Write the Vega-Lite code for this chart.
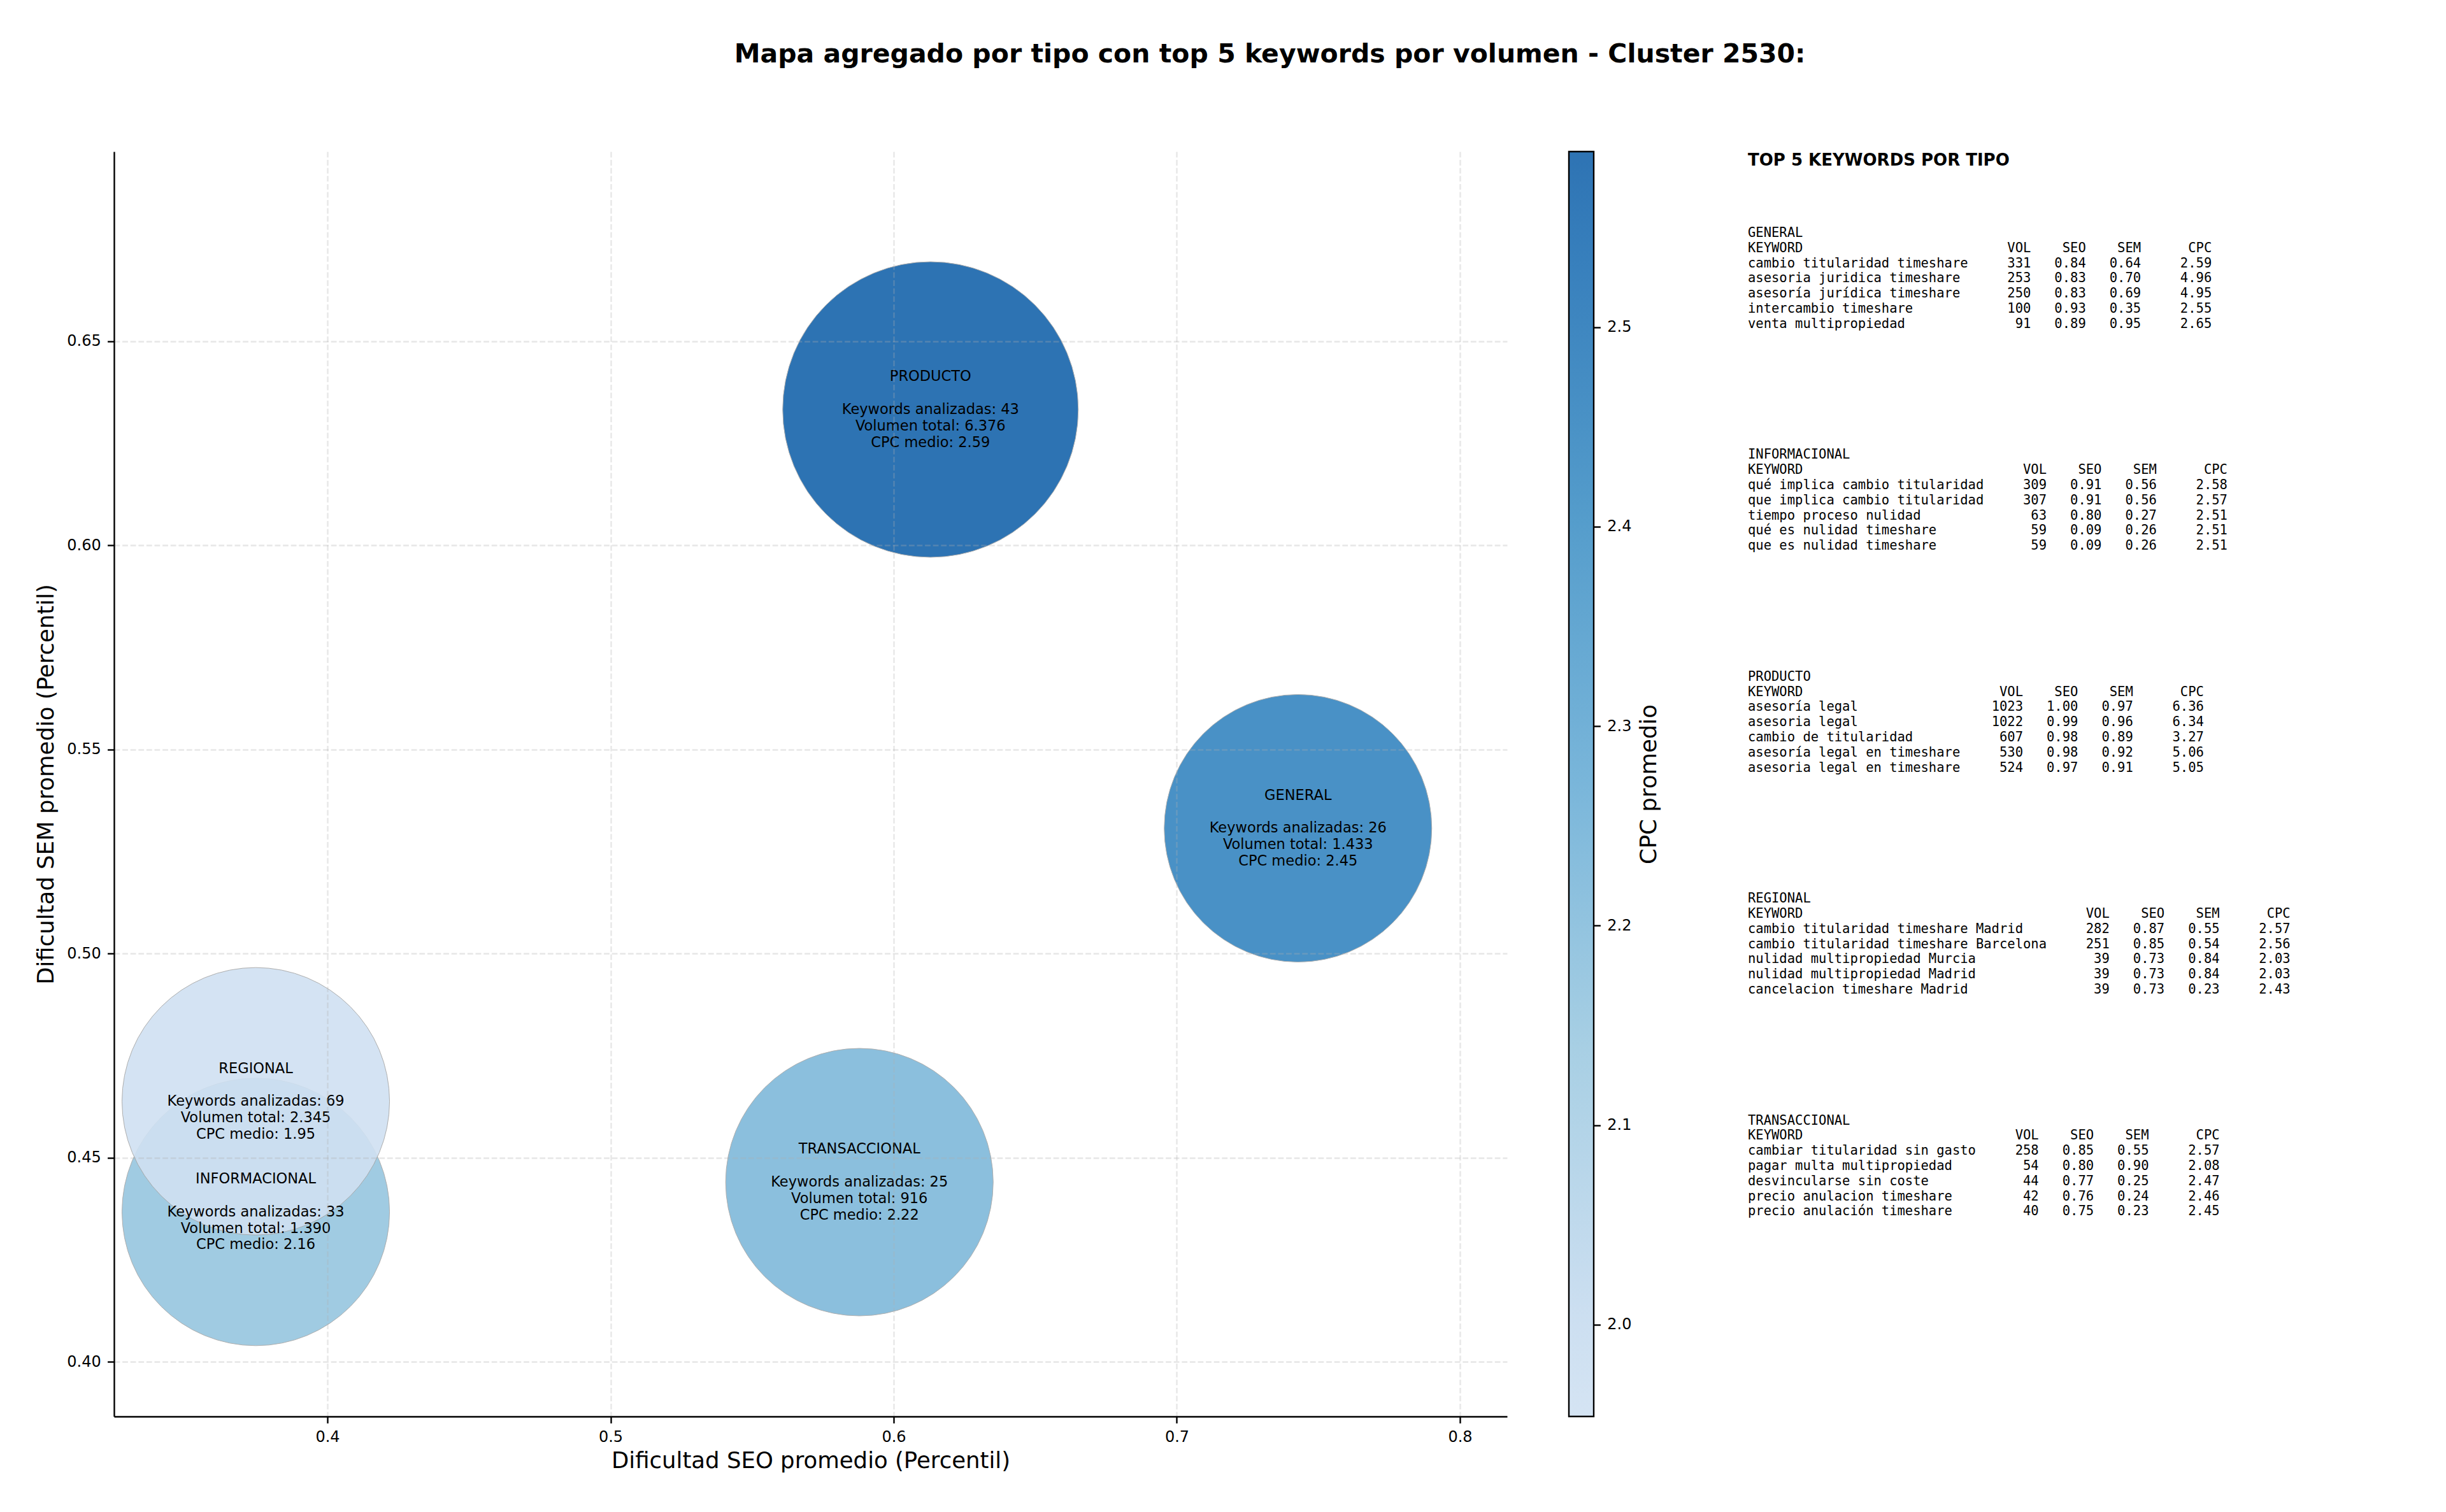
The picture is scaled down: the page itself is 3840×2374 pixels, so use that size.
{
"$schema": "https://vega.github.io/schema/vega-lite/v6.json",
"background": "white",
"padding": {"left": 55, "top": 64, "right": 10, "bottom": 10},
"title": {"text": "Mapa agregado por tipo con top 5 keywords por volumen - Cluster 2530:", "anchor": "start", "frame": "bounds", "dx": 1097, "offset": 98, "baseline": "alphabetic", "font": "DejaVu Sans", "fontSize": 41, "fontWeight": "bold", "color": "black"},
"datasets": {
"tipos": [
{"tipo": "GENERAL", "seo": 0.7428, "sem": 0.5307, "keywords": 26, "volumen": 1433, "cpc": 2.45},
{"tipo": "INFORMACIONAL", "seo": 0.3747, "sem": 0.4367, "keywords": 33, "volumen": 1390, "cpc": 2.16},
{"tipo": "PRODUCTO", "seo": 0.613, "sem": 0.6333, "keywords": 43, "volumen": 6376, "cpc": 2.588},
{"tipo": "REGIONAL", "seo": 0.3747, "sem": 0.4638, "keywords": 69, "volumen": 2345, "cpc": 1.954},
{"tipo": "TRANSACCIONAL", "seo": 0.5879, "sem": 0.444, "keywords": 25, "volumen": 916, "cpc": 2.22}
],
"kw": [
{"tipo": "GENERAL", "rank": 1, "keyword": "cambio titularidad timeshare", "vol": 331, "seo": 0.84, "sem": 0.64, "cpc": 2.59},
{"tipo": "GENERAL", "rank": 2, "keyword": "asesoria juridica timeshare", "vol": 253, "seo": 0.83, "sem": 0.70, "cpc": 4.96},
{"tipo": "GENERAL", "rank": 3, "keyword": "asesoría jurídica timeshare", "vol": 250, "seo": 0.83, "sem": 0.69, "cpc": 4.95},
{"tipo": "GENERAL", "rank": 4, "keyword": "intercambio timeshare", "vol": 100, "seo": 0.93, "sem": 0.35, "cpc": 2.55},
{"tipo": "GENERAL", "rank": 5, "keyword": "venta multipropiedad", "vol": 91, "seo": 0.89, "sem": 0.95, "cpc": 2.65},
{"tipo": "INFORMACIONAL", "rank": 1, "keyword": "qué implica cambio titularidad", "vol": 309, "seo": 0.91, "sem": 0.56, "cpc": 2.58},
{"tipo": "INFORMACIONAL", "rank": 2, "keyword": "que implica cambio titularidad", "vol": 307, "seo": 0.91, "sem": 0.56, "cpc": 2.57},
{"tipo": "INFORMACIONAL", "rank": 3, "keyword": "tiempo proceso nulidad", "vol": 63, "seo": 0.80, "sem": 0.27, "cpc": 2.51},
{"tipo": "INFORMACIONAL", "rank": 4, "keyword": "qué es nulidad timeshare", "vol": 59, "seo": 0.09, "sem": 0.26, "cpc": 2.51},
{"tipo": "INFORMACIONAL", "rank": 5, "keyword": "que es nulidad timeshare", "vol": 59, "seo": 0.09, "sem": 0.26, "cpc": 2.51},
{"tipo": "PRODUCTO", "rank": 1, "keyword": "asesoría legal", "vol": 1023, "seo": 1.00, "sem": 0.97, "cpc": 6.36},
{"tipo": "PRODUCTO", "rank": 2, "keyword": "asesoria legal", "vol": 1022, "seo": 0.99, "sem": 0.96, "cpc": 6.34},
{"tipo": "PRODUCTO", "rank": 3, "keyword": "cambio de titularidad", "vol": 607, "seo": 0.98, "sem": 0.89, "cpc": 3.27},
{"tipo": "PRODUCTO", "rank": 4, "keyword": "asesoría legal en timeshare", "vol": 530, "seo": 0.98, "sem": 0.92, "cpc": 5.06},
{"tipo": "PRODUCTO", "rank": 5, "keyword": "asesoria legal en timeshare", "vol": 524, "seo": 0.97, "sem": 0.91, "cpc": 5.05},
{"tipo": "REGIONAL", "rank": 1, "keyword": "cambio titularidad timeshare Madrid", "vol": 282, "seo": 0.87, "sem": 0.55, "cpc": 2.57},
{"tipo": "REGIONAL", "rank": 2, "keyword": "cambio titularidad timeshare Barcelona", "vol": 251, "seo": 0.85, "sem": 0.54, "cpc": 2.56},
{"tipo": "REGIONAL", "rank": 3, "keyword": "nulidad multipropiedad Murcia", "vol": 39, "seo": 0.73, "sem": 0.84, "cpc": 2.03},
{"tipo": "REGIONAL", "rank": 4, "keyword": "nulidad multipropiedad Madrid", "vol": 39, "seo": 0.73, "sem": 0.84, "cpc": 2.03},
{"tipo": "REGIONAL", "rank": 5, "keyword": "cancelacion timeshare Madrid", "vol": 39, "seo": 0.73, "sem": 0.23, "cpc": 2.43},
{"tipo": "TRANSACCIONAL", "rank": 1, "keyword": "cambiar titularidad sin gasto", "vol": 258, "seo": 0.85, "sem": 0.55, "cpc": 2.57},
{"tipo": "TRANSACCIONAL", "rank": 2, "keyword": "pagar multa multipropiedad", "vol": 54, "seo": 0.80, "sem": 0.90, "cpc": 2.08},
{"tipo": "TRANSACCIONAL", "rank": 3, "keyword": "desvincularse sin coste", "vol": 44, "seo": 0.77, "sem": 0.25, "cpc": 2.47},
{"tipo": "TRANSACCIONAL", "rank": 4, "keyword": "precio anulacion timeshare", "vol": 42, "seo": 0.76, "sem": 0.24, "cpc": 2.46},
{"tipo": "TRANSACCIONAL", "rank": 5, "keyword": "precio anulación timeshare", "vol": 40, "seo": 0.75, "sem": 0.23, "cpc": 2.45}
]
},
"spacing": 136,
"hconcat": [
{
"spacing": 95,
"hconcat": [
{
"width": 2187, "height": 1986,
"data": {"name": "tipos"},
"encoding": {
"x": {"field": "seo", "type": "quantitative", "scale": {"domain": [0.32463, 0.81665], "nice": false, "zero": false},
"axis": {"title": "Dificultad SEO promedio (Percentil)", "values": [0.4, 0.5, 0.6, 0.7, 0.8], "format": ".1f", "grid": true, "gridColor": "#b0b0b0", "gridOpacity": 0.3, "gridDash": [8.8, 3.8], "gridWidth": 2.4, "domainColor": "black", "domainWidth": 2.4, "tickColor": "black", "tickWidth": 2.4, "tickSize": 10.4, "labelPadding": 10.4, "labelFont": "DejaVu Sans", "labelFontSize": 24, "labelColor": "black", "labelFlush": false, "labelOverlap": false, "titleFont": "DejaVu Sans", "titleFontSize": 35.5, "titleFontWeight": "normal", "titleColor": "black", "titlePadding": 8, "zindex": 1}},
"y": {"field": "sem", "type": "quantitative", "scale": {"domain": [0.38658, 0.6965], "nice": false, "zero": false},
"axis": {"title": "Dificultad SEM promedio (Percentil)", "values": [0.4, 0.45, 0.5, 0.55, 0.6, 0.65], "format": ".2f", "grid": true, "gridColor": "#b0b0b0", "gridOpacity": 0.3, "gridDash": [8.8, 3.8], "gridWidth": 2.4, "domainColor": "black", "domainWidth": 2.4, "tickColor": "black", "tickWidth": 2.4, "tickSize": 10.4, "labelPadding": 10.4, "labelFont": "DejaVu Sans", "labelFontSize": 24, "labelColor": "black", "labelFlush": false, "labelOverlap": false, "titleFont": "DejaVu Sans", "titleFontSize": 35.5, "titleFontWeight": "normal", "titleColor": "black", "titlePadding": 14, "zindex": 1}}
},
"layer": [
{"mark": {"type": "circle", "opacity": 0.9, "stroke": "#a6a6a6", "strokeWidth": 1},
"encoding": {
"size": {"field": "volumen", "type": "quantitative", "scale": {"type": "linear", "domain": [2345, 6376], "range": [176400, 215296], "clamp": true}, "legend": null},
"color": {"field": "cpc", "type": "quantitative", "scale": {"domain": [1.954, 2.0068, 2.1389, 2.271, 2.4031, 2.5352, 2.588], "range": ["#d0e1f2", "#c6dbef", "#9ecae1", "#6baed6", "#4292c6", "#2171b5", "#1764ab"], "interpolate": "rgb", "nice": false, "zero": false}, "legend": null}
}},
{"mark": {"type": "text", "font": "DejaVu Sans", "fontSize": 22.5, "align": "center", "baseline": "middle", "color": "black", "dy": -51.6},
"encoding": {"text": {"field": "tipo", "type": "nominal"}}},
{"mark": {"type": "text", "font": "DejaVu Sans", "fontSize": 22.5, "lineHeight": 25.8, "align": "center", "baseline": "middle", "color": "black",
"text": {"expr": "['Keywords analizadas: ' + datum.keywords, 'Volumen total: ' + replace(format(datum.volumen, ','), ',', '.'), 'CPC medio: ' + format(datum.cpc, '.2f')]"}}}
]
},
{
"width": 39, "height": 1986,
"data": {"name": "tipos"},
"transform": [{"aggregate": [{"op": "min", "field": "cpc", "as": "cpc_min"}, {"op": "max", "field": "cpc", "as": "cpc_max"}]}],
"mark": {"type": "rect", "fill": {"gradient": "linear", "x1": 0, "y1": 1, "x2": 0, "y2": 0, "stops": [{"offset": 0, "color": "#d0e1f2"}, {"offset": 0.0833, "color": "#c6dbef"}, {"offset": 0.2917, "color": "#9ecae1"}, {"offset": 0.5, "color": "#6baed6"}, {"offset": 0.7083, "color": "#4292c6"}, {"offset": 0.9167, "color": "#2171b5"}, {"offset": 1, "color": "#1764ab"}]}, "fillOpacity": 0.9, "stroke": "black", "strokeWidth": 2.4},
"encoding": {
"x": {"datum": 0, "type": "quantitative", "scale": {"domain": [0, 1]}, "axis": null},
"x2": {"datum": 1},
"y": {"field": "cpc_min", "type": "quantitative", "scale": {"domain": [1.954, 2.588], "nice": false, "zero": false},
"axis": {"orient": "right", "title": "CPC promedio", "values": [2.0, 2.1, 2.2, 2.3, 2.4, 2.5], "format": ".1f", "grid": false, "domain": false, "tickColor": "black", "tickWidth": 2.4, "tickSize": 10.4, "labelPadding": 10.4, "labelFont": "DejaVu Sans", "labelFontSize": 24, "labelColor": "black", "labelFlush": false, "labelOverlap": false, "titleFont": "DejaVu Sans", "titleFontSize": 35.5, "titleFontWeight": "normal", "titleColor": "black", "titleAngle": 270, "titleBaseline": "top", "titlePadding": 11}},
"y2": {"field": "cpc_max"}
}
}
]
},
{
"spacing": 88.1,
"vconcat": [
{"width": 864, "height": 28, "data": {"name": "tipos"}, "transform": [{"aggregate": [{"op": "count", "as": "n"}]}],
"mark": {"type": "text", "text": "TOP 5 KEYWORDS POR TIPO", "font": "DejaVu Sans", "fontSize": 26, "fontWeight": "bold", "align": "left", "baseline": "middle"},
"encoding": {"x": {"datum": 0, "type": "quantitative", "scale": {"domain": [0, 70]}, "axis": null}, "y": {"datum": 0, "type": "quantitative", "scale": {"domain": [-1, 1]}, "axis": null}}},
{
"spacing": 181.4,
"vconcat": [
{"width": 864, "height": 166.6, "data": {"name": "kw"}, "transform": [{"filter": {"field": "tipo", "equal": "GENERAL"}}],
"encoding": {"y": {"field": "rank", "type": "ordinal", "scale": {"type": "point", "domain": [-1, 0, 1, 2, 3, 4, 5], "padding": 0.5}, "axis": null}},
"layer": [
{"transform": [{"filter": {"field": "rank", "equal": 1}}], "mark": {"type": "text", "align": "left"}, "encoding": {"x": {"datum": 0, "type": "quantitative", "scale": {"domain": [0, 70]}, "axis": null}, "y": {"datum": -1, "type": "ordinal", "axis": null}, "text": {"field": "tipo", "type": "nominal"}}},
{"transform": [{"filter": {"field": "rank", "equal": 1}}], "mark": {"type": "text", "align": "left", "text": "KEYWORD"}, "encoding": {"x": {"datum": 0, "type": "quantitative", "scale": {"domain": [0, 70]}, "axis": null}, "y": {"datum": 0, "type": "ordinal", "axis": null}}},
{"transform": [{"filter": {"field": "rank", "equal": 1}}], "mark": {"type": "text", "align": "right", "text": "VOL"}, "encoding": {"x": {"datum": 36, "type": "quantitative", "scale": {"domain": [0, 70]}, "axis": null}, "y": {"datum": 0, "type": "ordinal", "axis": null}}},
{"transform": [{"filter": {"field": "rank", "equal": 1}}], "mark": {"type": "text", "align": "right", "text": "SEO"}, "encoding": {"x": {"datum": 43, "type": "quantitative", "scale": {"domain": [0, 70]}, "axis": null}, "y": {"datum": 0, "type": "ordinal", "axis": null}}},
{"transform": [{"filter": {"field": "rank", "equal": 1}}], "mark": {"type": "text", "align": "right", "text": "SEM"}, "encoding": {"x": {"datum": 50, "type": "quantitative", "scale": {"domain": [0, 70]}, "axis": null}, "y": {"datum": 0, "type": "ordinal", "axis": null}}},
{"transform": [{"filter": {"field": "rank", "equal": 1}}], "mark": {"type": "text", "align": "right", "text": "CPC"}, "encoding": {"x": {"datum": 59, "type": "quantitative", "scale": {"domain": [0, 70]}, "axis": null}, "y": {"datum": 0, "type": "ordinal", "axis": null}}},
{"mark": {"type": "text", "align": "left"}, "encoding": {"x": {"datum": 0, "type": "quantitative", "scale": {"domain": [0, 70]}, "axis": null}, "text": {"field": "keyword", "type": "nominal"}}},
{"mark": {"type": "text", "align": "right"}, "encoding": {"x": {"datum": 36, "type": "quantitative", "scale": {"domain": [0, 70]}, "axis": null}, "text": {"field": "vol", "type": "quantitative", "format": "d"}}},
{"mark": {"type": "text", "align": "right"}, "encoding": {"x": {"datum": 43, "type": "quantitative", "scale": {"domain": [0, 70]}, "axis": null}, "text": {"field": "seo", "type": "quantitative", "format": ".2f"}}},
{"mark": {"type": "text", "align": "right"}, "encoding": {"x": {"datum": 50, "type": "quantitative", "scale": {"domain": [0, 70]}, "axis": null}, "text": {"field": "sem", "type": "quantitative", "format": ".2f"}}},
{"mark": {"type": "text", "align": "right"}, "encoding": {"x": {"datum": 59, "type": "quantitative", "scale": {"domain": [0, 70]}, "axis": null}, "text": {"field": "cpc", "type": "quantitative", "format": ".2f"}}}
]},
{"width": 864, "height": 166.6, "data": {"name": "kw"}, "transform": [{"filter": {"field": "tipo", "equal": "INFORMACIONAL"}}],
"encoding": {"y": {"field": "rank", "type": "ordinal", "scale": {"type": "point", "domain": [-1, 0, 1, 2, 3, 4, 5], "padding": 0.5}, "axis": null}},
"layer": [
{"transform": [{"filter": {"field": "rank", "equal": 1}}], "mark": {"type": "text", "align": "left"}, "encoding": {"x": {"datum": 0, "type": "quantitative", "scale": {"domain": [0, 70]}, "axis": null}, "y": {"datum": -1, "type": "ordinal", "axis": null}, "text": {"field": "tipo", "type": "nominal"}}},
{"transform": [{"filter": {"field": "rank", "equal": 1}}], "mark": {"type": "text", "align": "left", "text": "KEYWORD"}, "encoding": {"x": {"datum": 0, "type": "quantitative", "scale": {"domain": [0, 70]}, "axis": null}, "y": {"datum": 0, "type": "ordinal", "axis": null}}},
{"transform": [{"filter": {"field": "rank", "equal": 1}}], "mark": {"type": "text", "align": "right", "text": "VOL"}, "encoding": {"x": {"datum": 38, "type": "quantitative", "scale": {"domain": [0, 70]}, "axis": null}, "y": {"datum": 0, "type": "ordinal", "axis": null}}},
{"transform": [{"filter": {"field": "rank", "equal": 1}}], "mark": {"type": "text", "align": "right", "text": "SEO"}, "encoding": {"x": {"datum": 45, "type": "quantitative", "scale": {"domain": [0, 70]}, "axis": null}, "y": {"datum": 0, "type": "ordinal", "axis": null}}},
{"transform": [{"filter": {"field": "rank", "equal": 1}}], "mark": {"type": "text", "align": "right", "text": "SEM"}, "encoding": {"x": {"datum": 52, "type": "quantitative", "scale": {"domain": [0, 70]}, "axis": null}, "y": {"datum": 0, "type": "ordinal", "axis": null}}},
{"transform": [{"filter": {"field": "rank", "equal": 1}}], "mark": {"type": "text", "align": "right", "text": "CPC"}, "encoding": {"x": {"datum": 61, "type": "quantitative", "scale": {"domain": [0, 70]}, "axis": null}, "y": {"datum": 0, "type": "ordinal", "axis": null}}},
{"mark": {"type": "text", "align": "left"}, "encoding": {"x": {"datum": 0, "type": "quantitative", "scale": {"domain": [0, 70]}, "axis": null}, "text": {"field": "keyword", "type": "nominal"}}},
{"mark": {"type": "text", "align": "right"}, "encoding": {"x": {"datum": 38, "type": "quantitative", "scale": {"domain": [0, 70]}, "axis": null}, "text": {"field": "vol", "type": "quantitative", "format": "d"}}},
{"mark": {"type": "text", "align": "right"}, "encoding": {"x": {"datum": 45, "type": "quantitative", "scale": {"domain": [0, 70]}, "axis": null}, "text": {"field": "seo", "type": "quantitative", "format": ".2f"}}},
{"mark": {"type": "text", "align": "right"}, "encoding": {"x": {"datum": 52, "type": "quantitative", "scale": {"domain": [0, 70]}, "axis": null}, "text": {"field": "sem", "type": "quantitative", "format": ".2f"}}},
{"mark": {"type": "text", "align": "right"}, "encoding": {"x": {"datum": 61, "type": "quantitative", "scale": {"domain": [0, 70]}, "axis": null}, "text": {"field": "cpc", "type": "quantitative", "format": ".2f"}}}
]},
{"width": 864, "height": 166.6, "data": {"name": "kw"}, "transform": [{"filter": {"field": "tipo", "equal": "PRODUCTO"}}],
"encoding": {"y": {"field": "rank", "type": "ordinal", "scale": {"type": "point", "domain": [-1, 0, 1, 2, 3, 4, 5], "padding": 0.5}, "axis": null}},
"layer": [
{"transform": [{"filter": {"field": "rank", "equal": 1}}], "mark": {"type": "text", "align": "left"}, "encoding": {"x": {"datum": 0, "type": "quantitative", "scale": {"domain": [0, 70]}, "axis": null}, "y": {"datum": -1, "type": "ordinal", "axis": null}, "text": {"field": "tipo", "type": "nominal"}}},
{"transform": [{"filter": {"field": "rank", "equal": 1}}], "mark": {"type": "text", "align": "left", "text": "KEYWORD"}, "encoding": {"x": {"datum": 0, "type": "quantitative", "scale": {"domain": [0, 70]}, "axis": null}, "y": {"datum": 0, "type": "ordinal", "axis": null}}},
{"transform": [{"filter": {"field": "rank", "equal": 1}}], "mark": {"type": "text", "align": "right", "text": "VOL"}, "encoding": {"x": {"datum": 35, "type": "quantitative", "scale": {"domain": [0, 70]}, "axis": null}, "y": {"datum": 0, "type": "ordinal", "axis": null}}},
{"transform": [{"filter": {"field": "rank", "equal": 1}}], "mark": {"type": "text", "align": "right", "text": "SEO"}, "encoding": {"x": {"datum": 42, "type": "quantitative", "scale": {"domain": [0, 70]}, "axis": null}, "y": {"datum": 0, "type": "ordinal", "axis": null}}},
{"transform": [{"filter": {"field": "rank", "equal": 1}}], "mark": {"type": "text", "align": "right", "text": "SEM"}, "encoding": {"x": {"datum": 49, "type": "quantitative", "scale": {"domain": [0, 70]}, "axis": null}, "y": {"datum": 0, "type": "ordinal", "axis": null}}},
{"transform": [{"filter": {"field": "rank", "equal": 1}}], "mark": {"type": "text", "align": "right", "text": "CPC"}, "encoding": {"x": {"datum": 58, "type": "quantitative", "scale": {"domain": [0, 70]}, "axis": null}, "y": {"datum": 0, "type": "ordinal", "axis": null}}},
{"mark": {"type": "text", "align": "left"}, "encoding": {"x": {"datum": 0, "type": "quantitative", "scale": {"domain": [0, 70]}, "axis": null}, "text": {"field": "keyword", "type": "nominal"}}},
{"mark": {"type": "text", "align": "right"}, "encoding": {"x": {"datum": 35, "type": "quantitative", "scale": {"domain": [0, 70]}, "axis": null}, "text": {"field": "vol", "type": "quantitative", "format": "d"}}},
{"mark": {"type": "text", "align": "right"}, "encoding": {"x": {"datum": 42, "type": "quantitative", "scale": {"domain": [0, 70]}, "axis": null}, "text": {"field": "seo", "type": "quantitative", "format": ".2f"}}},
{"mark": {"type": "text", "align": "right"}, "encoding": {"x": {"datum": 49, "type": "quantitative", "scale": {"domain": [0, 70]}, "axis": null}, "text": {"field": "sem", "type": "quantitative", "format": ".2f"}}},
{"mark": {"type": "text", "align": "right"}, "encoding": {"x": {"datum": 58, "type": "quantitative", "scale": {"domain": [0, 70]}, "axis": null}, "text": {"field": "cpc", "type": "quantitative", "format": ".2f"}}}
]},
{"width": 864, "height": 166.6, "data": {"name": "kw"}, "transform": [{"filter": {"field": "tipo", "equal": "REGIONAL"}}],
"encoding": {"y": {"field": "rank", "type": "ordinal", "scale": {"type": "point", "domain": [-1, 0, 1, 2, 3, 4, 5], "padding": 0.5}, "axis": null}},
"layer": [
{"transform": [{"filter": {"field": "rank", "equal": 1}}], "mark": {"type": "text", "align": "left"}, "encoding": {"x": {"datum": 0, "type": "quantitative", "scale": {"domain": [0, 70]}, "axis": null}, "y": {"datum": -1, "type": "ordinal", "axis": null}, "text": {"field": "tipo", "type": "nominal"}}},
{"transform": [{"filter": {"field": "rank", "equal": 1}}], "mark": {"type": "text", "align": "left", "text": "KEYWORD"}, "encoding": {"x": {"datum": 0, "type": "quantitative", "scale": {"domain": [0, 70]}, "axis": null}, "y": {"datum": 0, "type": "ordinal", "axis": null}}},
{"transform": [{"filter": {"field": "rank", "equal": 1}}], "mark": {"type": "text", "align": "right", "text": "VOL"}, "encoding": {"x": {"datum": 46, "type": "quantitative", "scale": {"domain": [0, 70]}, "axis": null}, "y": {"datum": 0, "type": "ordinal", "axis": null}}},
{"transform": [{"filter": {"field": "rank", "equal": 1}}], "mark": {"type": "text", "align": "right", "text": "SEO"}, "encoding": {"x": {"datum": 53, "type": "quantitative", "scale": {"domain": [0, 70]}, "axis": null}, "y": {"datum": 0, "type": "ordinal", "axis": null}}},
{"transform": [{"filter": {"field": "rank", "equal": 1}}], "mark": {"type": "text", "align": "right", "text": "SEM"}, "encoding": {"x": {"datum": 60, "type": "quantitative", "scale": {"domain": [0, 70]}, "axis": null}, "y": {"datum": 0, "type": "ordinal", "axis": null}}},
{"transform": [{"filter": {"field": "rank", "equal": 1}}], "mark": {"type": "text", "align": "right", "text": "CPC"}, "encoding": {"x": {"datum": 69, "type": "quantitative", "scale": {"domain": [0, 70]}, "axis": null}, "y": {"datum": 0, "type": "ordinal", "axis": null}}},
{"mark": {"type": "text", "align": "left"}, "encoding": {"x": {"datum": 0, "type": "quantitative", "scale": {"domain": [0, 70]}, "axis": null}, "text": {"field": "keyword", "type": "nominal"}}},
{"mark": {"type": "text", "align": "right"}, "encoding": {"x": {"datum": 46, "type": "quantitative", "scale": {"domain": [0, 70]}, "axis": null}, "text": {"field": "vol", "type": "quantitative", "format": "d"}}},
{"mark": {"type": "text", "align": "right"}, "encoding": {"x": {"datum": 53, "type": "quantitative", "scale": {"domain": [0, 70]}, "axis": null}, "text": {"field": "seo", "type": "quantitative", "format": ".2f"}}},
{"mark": {"type": "text", "align": "right"}, "encoding": {"x": {"datum": 60, "type": "quantitative", "scale": {"domain": [0, 70]}, "axis": null}, "text": {"field": "sem", "type": "quantitative", "format": ".2f"}}},
{"mark": {"type": "text", "align": "right"}, "encoding": {"x": {"datum": 69, "type": "quantitative", "scale": {"domain": [0, 70]}, "axis": null}, "text": {"field": "cpc", "type": "quantitative", "format": ".2f"}}}
]},
{"width": 864, "height": 166.6, "data": {"name": "kw"}, "transform": [{"filter": {"field": "tipo", "equal": "TRANSACCIONAL"}}],
"encoding": {"y": {"field": "rank", "type": "ordinal", "scale": {"type": "point", "domain": [-1, 0, 1, 2, 3, 4, 5], "padding": 0.5}, "axis": null}},
"layer": [
{"transform": [{"filter": {"field": "rank", "equal": 1}}], "mark": {"type": "text", "align": "left"}, "encoding": {"x": {"datum": 0, "type": "quantitative", "scale": {"domain": [0, 70]}, "axis": null}, "y": {"datum": -1, "type": "ordinal", "axis": null}, "text": {"field": "tipo", "type": "nominal"}}},
{"transform": [{"filter": {"field": "rank", "equal": 1}}], "mark": {"type": "text", "align": "left", "text": "KEYWORD"}, "encoding": {"x": {"datum": 0, "type": "quantitative", "scale": {"domain": [0, 70]}, "axis": null}, "y": {"datum": 0, "type": "ordinal", "axis": null}}},
{"transform": [{"filter": {"field": "rank", "equal": 1}}], "mark": {"type": "text", "align": "right", "text": "VOL"}, "encoding": {"x": {"datum": 37, "type": "quantitative", "scale": {"domain": [0, 70]}, "axis": null}, "y": {"datum": 0, "type": "ordinal", "axis": null}}},
{"transform": [{"filter": {"field": "rank", "equal": 1}}], "mark": {"type": "text", "align": "right", "text": "SEO"}, "encoding": {"x": {"datum": 44, "type": "quantitative", "scale": {"domain": [0, 70]}, "axis": null}, "y": {"datum": 0, "type": "ordinal", "axis": null}}},
{"transform": [{"filter": {"field": "rank", "equal": 1}}], "mark": {"type": "text", "align": "right", "text": "SEM"}, "encoding": {"x": {"datum": 51, "type": "quantitative", "scale": {"domain": [0, 70]}, "axis": null}, "y": {"datum": 0, "type": "ordinal", "axis": null}}},
{"transform": [{"filter": {"field": "rank", "equal": 1}}], "mark": {"type": "text", "align": "right", "text": "CPC"}, "encoding": {"x": {"datum": 60, "type": "quantitative", "scale": {"domain": [0, 70]}, "axis": null}, "y": {"datum": 0, "type": "ordinal", "axis": null}}},
{"mark": {"type": "text", "align": "left"}, "encoding": {"x": {"datum": 0, "type": "quantitative", "scale": {"domain": [0, 70]}, "axis": null}, "text": {"field": "keyword", "type": "nominal"}}},
{"mark": {"type": "text", "align": "right"}, "encoding": {"x": {"datum": 37, "type": "quantitative", "scale": {"domain": [0, 70]}, "axis": null}, "text": {"field": "vol", "type": "quantitative", "format": "d"}}},
{"mark": {"type": "text", "align": "right"}, "encoding": {"x": {"datum": 44, "type": "quantitative", "scale": {"domain": [0, 70]}, "axis": null}, "text": {"field": "seo", "type": "quantitative", "format": ".2f"}}},
{"mark": {"type": "text", "align": "right"}, "encoding": {"x": {"datum": 51, "type": "quantitative", "scale": {"domain": [0, 70]}, "axis": null}, "text": {"field": "sem", "type": "quantitative", "format": ".2f"}}},
{"mark": {"type": "text", "align": "right"}, "encoding": {"x": {"datum": 60, "type": "quantitative", "scale": {"domain": [0, 70]}, "axis": null}, "text": {"field": "cpc", "type": "quantitative", "format": ".2f"}}}
]}
]
}
]
}
],
"config": {"view": {"stroke": null}, "text": {"font": "DejaVu Sans Mono", "fontSize": 20.5, "baseline": "middle", "color": "black"}}
}
